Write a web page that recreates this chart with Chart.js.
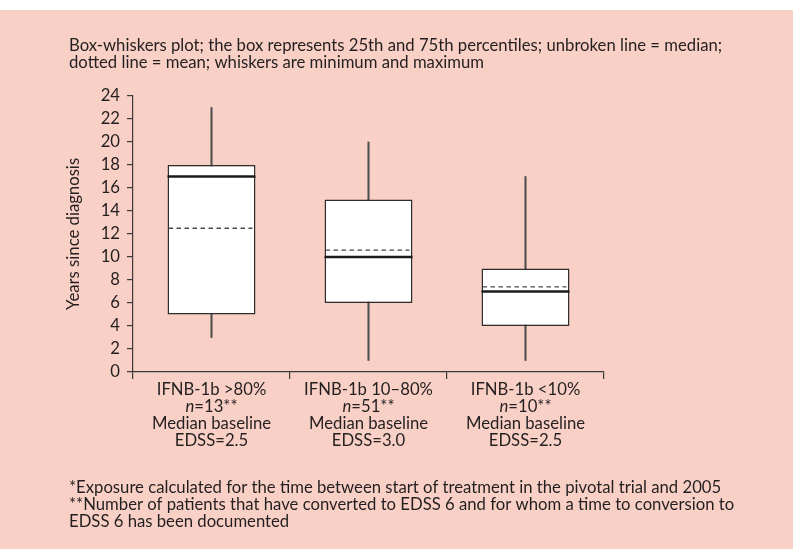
<!DOCTYPE html>
<html>
<head>
<meta charset="utf-8">
<script src="https://cdn.jsdelivr.net/npm/chart.js@4"></script>
<style>
  html, body { margin: 0; padding: 0; background: #ffffff; }
  #wrap { position: relative; width: 793px; height: 549px; }
</style>
</head>
<body>
<div id="wrap"><canvas id="c"></canvas></div>
<script>
// ---- data ----
const groupNames = ['IFNB-1b >80%', 'IFNB-1b 10\u201380%', 'IFNB-1b <10%'];
const groupN = ['13', '51', '10'];
const baselineEDSS = ['2.5', '3.0', '2.5'];
const minimum = [3, 1, 1];
const q1 = [5, 6, 4];
const median = [17, 10, 7];
const mean = [12.5, 10.6, 7.4];
const q3 = [18, 15, 9];
const maximum = [23, 20, 17];
const yTicks = [0, 2, 4, 6, 8, 10, 12, 14, 16, 18, 20, 22, 24];
const yTitle = 'Years since diagnosis';
const titleLines = [
  'Box-whiskers plot; the box represents 25th and 75th percentiles; unbroken line = median;',
  'dotted line = mean; whiskers are minimum and maximum'
];
const footLines = [
  '*Exposure calculated for the time between start of treatment in the pivotal trial and 2005',
  '**Number of patients that have converted to EDSS 6 and for whom a time to conversion to',
  'EDSS 6 has been documented'
];

// ---- styling ----
const FAMILY = "Lato, Roboto, sans-serif";
const TEXT = '#231f20';
const AXIS = '#3a3a3a';
const PINK = '#f9d0c6';
const mctx = document.createElement('canvas').getContext('2d');
mctx.font = '100px ' + FAMILY;
// fit the font size so the long text lines span their measured widths in the picture
const measured = mctx.measureText(titleLines[0]).width + mctx.measureText(footLines[0]).width + mctx.measureText(footLines[1]).width;
const FS = Math.round(100 * (663 + 650 + 662) / measured * 10) / 10;
const FONT = FS + 'px ' + FAMILY;
const IFONT = 'italic ' + FS + 'px ' + FAMILY;

const bgPlugin = {
  id: 'bg',
  beforeDraw(chart) {
    const c = chart.ctx;
    c.save();
    c.fillStyle = '#ffffff';
    c.fillRect(0, 0, chart.width, chart.height);
    c.fillStyle = PINK;
    c.fillRect(0, 10, chart.width, chart.height - 10);
    c.restore();
  }
};

const textPlugin = {
  id: 'texts',
  afterDraw(chart) {
    const c = chart.ctx;
    const xs = chart.scales.x;
    c.save();
    c.fillStyle = TEXT;
    c.font = FONT;
    c.textBaseline = 'alphabetic';
    c.textAlign = 'left';
    titleLines.forEach((t, i) => c.fillText(t, 69, 51 + i * 17));
    footLines.forEach((t, i) => c.fillText(t, 69, 493 + i * 17));
    // category labels, with italic n
    groupNames.forEach((name, i) => {
      const cx = xs.getPixelForValue(i);
      const base = 395;
      c.textAlign = 'center';
      c.font = FONT;
      c.fillText(name, cx, base);
      const rest = '=' + groupN[i] + '**';
      c.font = IFONT;
      const wn = c.measureText('n').width;
      c.font = FONT;
      const wr = c.measureText(rest).width;
      const sx = cx - (wn + wr) / 2;
      c.textAlign = 'left';
      c.font = IFONT;
      c.fillText('n', sx, base + 17);
      c.font = FONT;
      c.fillText(rest, sx + wn, base + 17);
      c.textAlign = 'center';
      c.fillText('Median baseline', cx, base + 34);
      c.fillText('EDSS=' + baselineEDSS[i], cx, base + 51);
    });
    c.restore();
  }
};

const linesPlugin = {
  id: 'medmean',
  afterDatasetsDraw(chart) {
    const c = chart.ctx;
    const ys = chart.scales.y;
    const meta = chart.getDatasetMeta(0);
    c.save();
    meta.data.forEach((bar, i) => {
      const l = bar.x - bar.width / 2;
      const r = bar.x + bar.width / 2;
      // mean: dashed
      const ym = ys.getPixelForValue(mean[i]);
      c.beginPath();
      c.setLineDash([4.5, 3.5]);
      c.lineWidth = 1.3;
      c.strokeStyle = '#4a4a4a';
      c.moveTo(l + 1, ym);
      c.lineTo(r - 3, ym);
      c.stroke();
      // median: solid thick
      const yd = ys.getPixelForValue(median[i]);
      c.beginPath();
      c.setLineDash([]);
      c.lineWidth = 2.6;
      c.strokeStyle = '#1a1a1a';
      c.moveTo(l, yd);
      c.lineTo(r, yd);
      c.stroke();
    });
    c.restore();
  }
};

new Chart(document.getElementById('c'), {
  type: 'bar',
  data: {
    labels: groupNames,
    datasets: [
      {
        label: 'Interquartile box',
        data: q1.map((v, i) => [v, q3[i]]),
        backgroundColor: '#ffffff',
        borderColor: '#2e2e2e',
        borderWidth: 1.5,
        borderSkipped: false,
        barPercentage: 0.56,
        categoryPercentage: 1
      },
      {
        label: 'Whiskers',
        data: minimum.map((v, i) => [v, maximum[i]]),
        backgroundColor: '#4e4e4e',
        borderWidth: 0,
        barThickness: 1.4
      }
    ]
  },
  options: {
    responsive: true,
    maintainAspectRatio: false,
    devicePixelRatio: 1,
    animation: false,
    layout: { padding: { top: 96, left: 60, right: 189, bottom: 87 } },
    plugins: { legend: { display: false }, tooltip: { enabled: false } },
    datasets: { bar: { grouped: false } },
    scales: {
      x: {
        offset: true,
        afterFit(s) { s.height = 90; },
        grid: { offset: true, drawOnChartArea: false, drawTicks: true, tickLength: 7, color: AXIS, lineWidth: 1.2 },
        border: { display: true, color: AXIS, width: 1.2 },
        ticks: { display: false }
      },
      y: {
        min: 0,
        max: 24,
        afterFit(s) { s.width = 73; },
        afterBuildTicks(s) { s.ticks = yTicks.map(v => ({ value: v })); },
        grid: { drawOnChartArea: false, drawTicks: true, tickLength: 6, color: AXIS, lineWidth: 1.2 },
        border: { display: true, color: AXIS, width: 1.2 },
        ticks: { color: TEXT, font: { family: FAMILY, size: FS }, padding: 7, autoSkip: false },
        title: { display: true, text: yTitle, color: TEXT, font: { family: FAMILY, size: FS }, padding: { top: 4, bottom: 0 } }
      }
    }
  },
  plugins: [bgPlugin, linesPlugin, textPlugin]
});
</script>
</body>
</html>
